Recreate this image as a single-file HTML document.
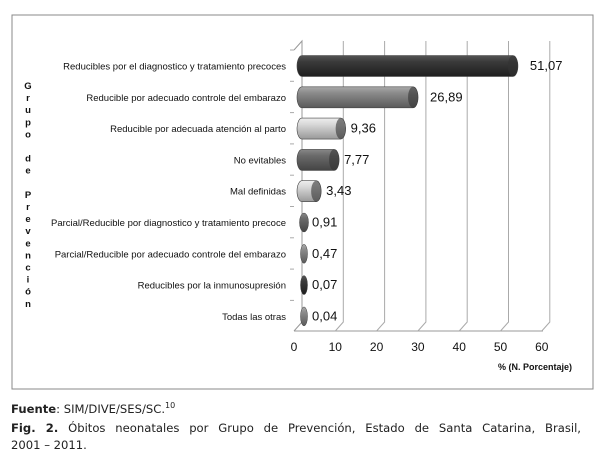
<!DOCTYPE html>
<html><head><meta charset="utf-8"><style>
body{margin:0;background:#fff;width:605px;height:455px;overflow:hidden;font-family:"DejaVu Sans","Liberation Sans",sans-serif}
.ft{position:absolute;left:11px;font-size:11.6px;color:#222;line-height:17px;white-space:nowrap}
</style></head><body>
<svg width="605" height="455" style="position:absolute;left:0;top:0" font-family="Liberation Sans, Arial, sans-serif">
<defs>
<linearGradient id="g1" x1="0" y1="0" x2="0" y2="1"><stop offset="0" stop-color="#555"/><stop offset=".3" stop-color="#3a3a3a"/><stop offset="1" stop-color="#1e1e1e"/></linearGradient>
<linearGradient id="g2" x1="0" y1="0" x2="0" y2="1"><stop offset="0" stop-color="#aaa"/><stop offset=".3" stop-color="#8a8a8a"/><stop offset="1" stop-color="#5a5a5a"/></linearGradient>
<linearGradient id="g3" x1="0" y1="0" x2="0" y2="1"><stop offset="0" stop-color="#eee"/><stop offset=".3" stop-color="#d8d8d8"/><stop offset="1" stop-color="#999"/></linearGradient>
<linearGradient id="g4" x1="0" y1="0" x2="0" y2="1"><stop offset="0" stop-color="#888"/><stop offset=".3" stop-color="#6a6a6a"/><stop offset="1" stop-color="#444"/></linearGradient>
</defs>
<rect x="12" y="15" width="581" height="374" fill="#fff" stroke="#888" stroke-width="1"/>
<g stroke="#999" stroke-width="1" fill="none">
<path d="M294 50 L302 41 L302 322 L294 331"/>
<path d="M294 331 L543 331"/>
</g>
<g stroke="#aaa" stroke-width="1" fill="none" id="grid"></g>
<g id="bars"></g>
<g font-size="9.5" fill="#111" text-anchor="end" id="labels"></g>
<g font-size="13" fill="#111" id="vals"></g>
<g font-size="12" fill="#111" text-anchor="middle" id="ticks"></g>
<text x="572" y="370" font-size="9" font-weight="bold" text-anchor="end" fill="#111">% (N. Porcentaje)</text>
<g font-size="9.5" font-weight="bold" fill="#111" text-anchor="middle" id="vl"></g>
</svg>
<div class="ft" style="top:397px">
<b>Fuente</b>: SIM/DIVE/SES/SC.<sup style="font-size:8px">10</sup></div>
<div class="ft" style="top:420px;width:570px;text-align:justify;text-align-last:justify"><b>Fig. 2.</b> Óbitos neonatales por Grupo de Prevención, Estado de Santa Catarina, Brasil,</div>
<div class="ft" style="top:437px">2001 – 2011.</div>
<script>
var ns="http://www.w3.org/2000/svg";
function el(p,t,a,txt){var e=document.createElementNS(ns,t);for(var k in a)e.setAttribute(k,a[k]);if(txt!=null)e.textContent=txt;document.getElementById(p).appendChild(e);return e;}
var sc=4.13;
for(var i=0;i<=6;i++){var x=294+i*41.3;
 if(i>0){el("grid","path",{d:"M"+x+" 331 L"+(x+8)+" 322 L"+(x+8)+" 41"});}
 el("ticks","text",{x:x,y:351},String(i*10));}
var L=["Reducibles por el diagnostico y tratamiento precoces","Reducible por adecuado controle del embarazo","Reducible por adecuada atención al parto","No evitables","Mal definidas","Parcial/Reducible por diagnostico y tratamiento precoce","Parcial/Reducible por adecuado controle del embarazo","Reducibles por la inmunosupresión","Todas las otras"];
var V=[51.07,26.89,9.36,7.77,3.43,0.91,0.47,0.07,0.04];
var G=["g1","g2","g3","g4","g3","g4","g2","g1","g2"];
for(var i=0;i<9;i++){var cy=66+i*31.3;
 el("labels","text",{x:286,y:cy+3.5},L[i]);
 el("grid","path",{d:"M290 "+(cy-16)+" L294 "+(cy-16)});
 var w=V[i]*sc, x0=302, x1=x0+w, h=21, rx=5;
 if(w>5){el("bars","path",{d:"M"+x0+" "+(cy-h/2)+" L"+x1+" "+(cy-h/2)+" A"+rx+" "+h/2+" 0 0 1 "+x1+" "+(cy+h/2)+" L"+x0+" "+(cy+h/2)+" A"+rx+" "+h/2+" 0 0 1 "+x0+" "+(cy-h/2)+"Z",fill:"url(#"+G[i]+")",stroke:"#444","stroke-width":"0.6"});
 el("bars","ellipse",{cx:x1,cy:cy,rx:rx,ry:h/2,fill:"#333",opacity:"0.6"});}
 else{el("bars","ellipse",{cx:x0+2,cy:cy,rx:(i==5?4.5:3.5),ry:h/2-1,fill:"url(#"+G[i]+")",stroke:"#444","stroke-width":"0.5"});}
 var vx=x1+(i<2?17:10); if(w<=5)vx=312;
 el("vals","text",{x:vx,y:cy+4},V[i].toFixed(2).replace(".",","));}
var ch="Grupo de Prevención".split("");
for(var i=0;i<ch.length;i++){if(ch[i]!=" ")el("vl","text",{x:28,y:89+i*12.1},ch[i]);}
</script>
</body></html>
